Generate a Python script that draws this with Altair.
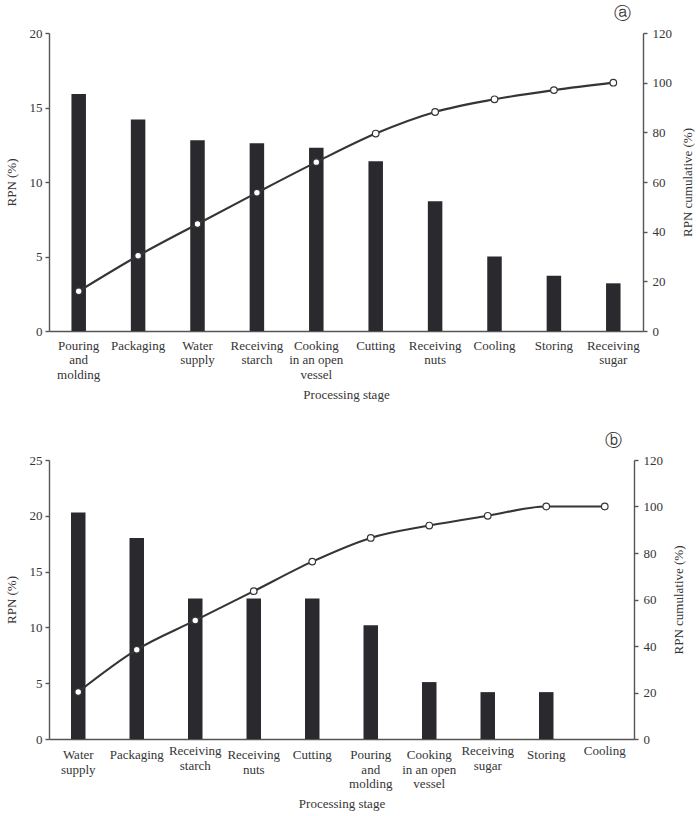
import json
import altair as alt
import pandas as pd

# Panel (a): RPN share per processing stage and cumulative share
stages_a = ["Pouring\nand\nmolding", "Packaging", "Water\nsupply", "Receiving\nstarch",
            "Cooking\nin an open\nvessel", "Cutting", "Receiving\nnuts", "Cooling",
            "Storing", "Receiving\nsugar"]
rpn_a = [15.9, 14.2, 12.8, 12.6, 12.3, 11.4, 8.7, 5.0, 3.7, 3.2]
cum_a = [16.0, 30.3, 43.1, 55.7, 68.0, 79.5, 88.2, 93.3, 97.0, 100.0]

# Panel (b)
stages_b = ["Water\nsupply", "Packaging", "Receiving\nstarch", "Receiving\nnuts", "Cutting",
            "Pouring\nand\nmolding", "Cooking\nin an open\nvessel", "Receiving\nsugar",
            "Storing", "Cooling"]
rpn_b = [20.3, 18.0, 12.6, 12.6, 12.6, 10.2, 5.1, 4.2, 4.2, 0.0]
cum_b = [20.2, 38.4, 51.0, 63.6, 76.3, 86.5, 91.8, 96.0, 100.0, 100.0]
raised_b = ["Receiving\nstarch", "Receiving\nsugar", "Cooling"]

SERIF = "Liberation Serif"
INK = "#353535"
AXIS = "#555555"
BAR = "#2a2a2e"


def panel(stages, rpn, cum, ymax, letter, width, height, label_pad, raised=()):
    df = pd.DataFrame({"stage": stages, "rpn": rpn, "cum": cum})

    pad = label_pad
    if raised:
        test = " || ".join(f"datum.value === {json.dumps(s)}" for s in raised)
        pad = {"condition": {"test": test, "value": label_pad - 4}, "value": label_pad}

    x = alt.X(
        "stage:N", sort=stages,
        scale=alt.Scale(paddingInner=0, paddingOuter=0),
        axis=alt.Axis(title="Processing stage", labelAngle=0,
                      labelExpr="split(datum.label, '\\n')",
                      labelLineHeight=14.7, labelOverlap=False,
                      ticks=False, tickSize=0, labelPadding=pad,
                      titlePadding=7),
    )

    bars = alt.Chart(df).mark_bar(size=14.5, color=BAR).encode(
        x=x,
        y=alt.Y("rpn:Q", scale=alt.Scale(domain=[0, ymax]),
                axis=alt.Axis(title="RPN (%)", values=list(range(0, ymax + 1, 5)),
                              tickSize=4, labelPadding=3, titlePadding=11)),
    )

    ycum = alt.Y("cum:Q", scale=alt.Scale(domain=[0, 120]),
                 axis=alt.Axis(title="RPN cumulative (%)", orient="right",
                               values=list(range(0, 121, 20)), titleAngle=270,
                               titleBaseline="top",
                               tickSize=4, labelPadding=5, titlePadding=10))
    line = alt.Chart(df).mark_line(color=INK, strokeWidth=2.1,
                                   interpolate="monotone").encode(x=x, y=ycum)
    pts = alt.Chart(df).mark_point(filled=True, fill="white", stroke=INK,
                                   strokeWidth=1.2, size=44, opacity=1).encode(x=x, y=ycum)

    return alt.layer(bars, alt.layer(line, pts)).resolve_scale(y="independent").properties(
        width=width, height=height,
        title=alt.TitleParams(letter, anchor="end", frame="group", font="DejaVu Sans",
                              fontSize=17, fontWeight="normal", color=INK, dx=-12, offset=4),
    )


top = panel(stages_a, rpn_a, cum_a, 20, "ⓐ", 594, 298, 8)
bottom = panel(stages_b, rpn_b, cum_b, 25, "ⓑ", 585, 279, 9.5, raised_b)

chart = alt.vconcat(top, bottom, spacing=30).properties(
    background="white", padding={"left": 5, "top": 5, "right": 0, "bottom": 0},
).configure_view(stroke=None).configure_axis(
    labelFont=SERIF, titleFont=SERIF, labelFontSize=13, titleFontSize=13,
    labelColor=INK, titleColor=INK, titleFontWeight="normal",
    domainColor=AXIS, tickColor=AXIS, domainWidth=1.4, tickWidth=1.4, grid=False,
)

chart.save("out.html", embed_options={"renderer": "svg", "actions": False})
